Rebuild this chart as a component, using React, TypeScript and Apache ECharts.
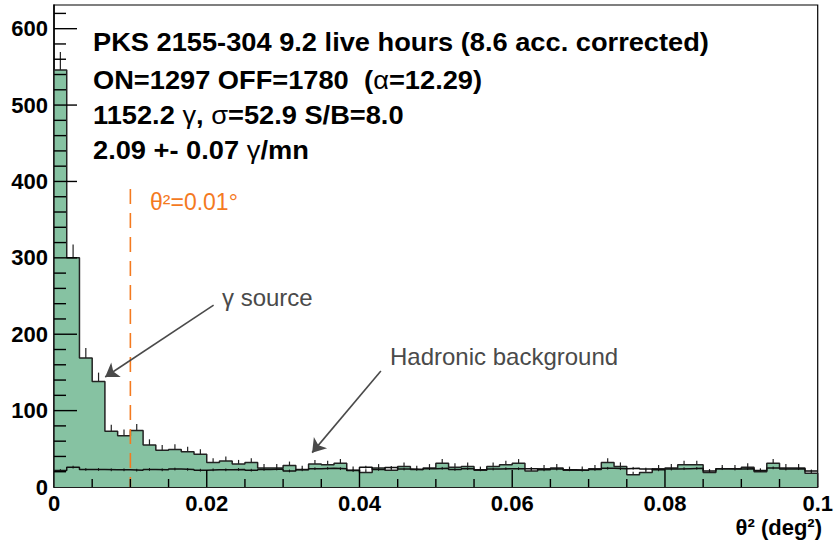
import React, { useEffect, useRef } from "react";
import * as echarts from "echarts";

// theta^2 histogram: 60 bins of width 1/600 deg^2 from 0 to 0.1
const binCount = 60;
const binWidth = 0.1 / 60;

// ON counts (green filled histogram)
const onCounts = [
  546, 300, 169, 138, 73, 67, 74, 55, 48, 49,
  46, 43, 32, 34, 30, 32, 25, 25, 28, 23,
  30, 29, 31, 22, 19, 25, 22, 27, 23, 25,
  31, 26, 27, 22, 27, 29, 31, 21, 24, 25,
  22, 22, 24, 32, 27, 16, 19, 24, 25, 29,
  29, 19, 24, 24, 26, 20, 31, 25, 25, 18,
];

// normalised OFF counts (black line histogram)
const offCounts = [
  21.5, 26, 23, 23, 22.5, 22.5, 22, 23, 22.5, 23.5,
  23, 22, 22.5, 22.5, 23, 22, 23, 23.5, 21, 22.5,
  24, 24.5, 24, 21.5, 26, 23, 25.5, 23.5, 23, 24,
  24.5, 23, 24, 22.5, 23.5, 24, 24, 24, 22.5, 23.5,
  22.5, 22, 23, 24.5, 24, 24.5, 23.5, 22.5, 23.5, 24,
  24.5, 21, 24, 23.5, 24, 21.5, 25, 23.5, 24, 21,
];

const offError = 1.8;
const cutValue = 0.01;
const cutTop = 390;

const yMajorTicks = [100, 200, 300, 400, 500, 600];
const yMinorTicks = [
  20, 40, 60, 80, 120, 140, 160, 180, 220, 240, 260, 280, 320, 340, 360, 380,
  420, 440, 460, 480, 520, 540, 560, 580, 620,
];
const xMajorTicks = [0.02, 0.04, 0.06, 0.08];
const xMinorTicks = [0.005, 0.01, 0.015, 0.025, 0.03, 0.035, 0.045, 0.05, 0.055, 0.065, 0.07, 0.075, 0.085, 0.09, 0.095];

const FONT = "'Liberation Sans', Arial, Helvetica, sans-serif";

function stepOutline(vals: number[], closeToZero: boolean): number[][] {
  const pts: number[][] = [];
  if (closeToZero) pts.push([0, 0]);
  vals.forEach((v, i) => {
    pts.push([i * binWidth, v]);
    pts.push([(i + 1) * binWidth, v]);
  });
  if (closeToZero) pts.push([binCount * binWidth, 0]);
  return pts;
}

export default function App() {
  const ref = useRef<HTMLDivElement>(null);

  useEffect(() => {
    if (!ref.current) return;
    const chart = echarts.init(ref.current, undefined, { renderer: "svg" });

    const onErr = onCounts.map((v, i) => [(i + 0.5) * binWidth, v, v + Math.sqrt(v)]);
    const offErr = offCounts.map((v, i) => [(i + 0.5) * binWidth, v - offError, v + offError]);
    const yTickData = [
      ...yMajorTicks.map((v) => [0, v, 1]),
      ...yMinorTicks.map((v) => [0, v, 0]),
    ];
    const xTickData = [
      ...xMajorTicks.map((v) => [v, 0, 1]),
      ...xMinorTicks.map((v) => [v, 0, 0]),
    ];

    const errRender = (color: string, w: number) => (params: any, api: any) => {
      const x = api.value(0);
      const p1 = api.coord([x, api.value(1)]);
      const p2 = api.coord([x, api.value(2)]);
      return {
        type: "line",
        shape: { x1: p1[0], y1: p1[1], x2: p2[0], y2: p2[1] },
        style: { stroke: color, lineWidth: w },
      };
    };

    const HS = 25;
    const textStyleBold = { fontFamily: FONT, fontWeight: "bold", fontSize: HS, fill: "#000" };
    const greek = { fontFamily: FONT, fontWeight: "normal", fontSize: HS, fill: "#000" };

    const headerText = (y: number, text: string) => ({
      type: "text",
      x: 93,
      y,
      scaleX: 1.09,
      z: 100,
      style: {
        x: 0,
        y: 0,
        verticalAlign: "middle",
        text,
        rich: { b: textStyleBold, g: greek },
        ...textStyleBold,
      },
    });

    chart.setOption({
      animation: false,
      backgroundColor: "#fff",
      grid: {
        left: 54,
        right: 13,
        top: 5,
        bottom: 54,
        show: true,
        borderColor: "#000",
        borderWidth: 1.2,
        backgroundColor: "transparent",
      },
      xAxis: {
        type: "value",
        min: 0,
        max: 0.1,
        interval: 0.02,
        axisLine: { show: true, lineStyle: { color: "#000", width: 1.5 } },
        axisTick: { show: false },
        splitLine: { show: false },
        axisLabel: {
          color: "#000",
          fontFamily: FONT,
          fontWeight: "bold",
          fontSize: 22,
          margin: 5,
          formatter: (v: number) => String(Math.round(v * 1000) / 1000),
        },
      },
      yAxis: {
        type: "value",
        min: 0,
        max: 631,
        interval: 100,
        axisLine: { show: true, lineStyle: { color: "#000", width: 1.5 } },
        axisTick: { show: false },
        splitLine: { show: false },
        axisLabel: {
          color: "#000",
          fontFamily: FONT,
          fontWeight: "bold",
          fontSize: 22,
          margin: 6,
          showMaxLabel: false,
          formatter: (v: number) => (v % 100 === 0 ? String(v) : ""),
        },
      },
      series: [
        {
          type: "line",
          name: "ON",
          data: stepOutline(onCounts, true),
          showSymbol: false,
          symbol: "none",
          lineStyle: { color: "#222", width: 1.5 },
          areaStyle: { color: "#86c2a2", opacity: 1 },
          z: 2,
        },
        {
          type: "line",
          name: "OFF",
          data: stepOutline(offCounts, false),
          showSymbol: false,
          symbol: "none",
          lineStyle: { color: "#111", width: 1.5 },
          z: 3,
        },
        {
          type: "custom",
          name: "ON errors",
          data: onErr,
          encode: { x: 0, y: [1, 2] },
          renderItem: errRender("#222", 1.2),
          z: 4,
        },
        {
          type: "custom",
          name: "OFF errors",
          data: offErr,
          encode: { x: 0, y: [1, 2] },
          renderItem: errRender("#111", 1),
          z: 4,
        },
        {
          type: "line",
          name: "cut",
          data: [
            [cutValue, cutTop],
            [cutValue, 0],
          ],
          showSymbol: false,
          symbol: "none",
          lineStyle: { color: "#f47a1f", width: 1.6, type: [15, 9] },
          z: 5,
        },
        {
          type: "custom",
          name: "yticks",
          data: yTickData,
          encode: { x: 0, y: 1 },
          renderItem: (params: any, api: any) => {
            const p = api.coord([0, api.value(1)]);
            const len = api.value(2) ? 23 : 12;
            return {
              type: "line",
              shape: { x1: p[0], y1: p[1], x2: p[0] + len, y2: p[1] },
              style: { stroke: "#000", lineWidth: 1.4 },
            };
          },
          z: 6,
        },
        {
          type: "custom",
          name: "xticks",
          data: xTickData,
          encode: { x: 0, y: 1 },
          renderItem: (params: any, api: any) => {
            const p = api.coord([api.value(0), 0]);
            const len = api.value(2) ? 17 : 8;
            return {
              type: "line",
              shape: { x1: p[0], y1: p[1], x2: p[0], y2: p[1] - len },
              style: { stroke: "#000", lineWidth: 1.4 },
            };
          },
          z: 6,
        },
        {
          type: "lines",
          coordinateSystem: "cartesian2d",
          name: "arrows",
          symbol: ["none", "arrow"],
          symbolSize: [9, 13],
          lineStyle: { color: "#4a4a4a", width: 1.6, opacity: 1, curveness: 0 },
          data: [
            { coords: [[0.0209, 238], [0.0067, 144]] },
            { coords: [[0.0428, 152], [0.0338, 45]] },
          ],
          z: 7,
        },
      ],
      graphic: [
        headerText(42, "{b|PKS 2155-304 9.2 live hours (8.6 acc. corrected)}"),
        headerText(80, "{b|ON=1297 OFF=1780  (}{g|α}{b|=12.29)}"),
        headerText(115, "{b|1152.2 }{g|γ}{b|, }{g|σ}{b|=52.9 S/B=8.0}"),
        headerText(150, "{b|2.09 +- 0.07 }{g|γ}{b|/mn}"),
        {
          type: "text",
          z: 100,
          style: {
            x: 150,
            y: 202,
            verticalAlign: "middle",
            text: "θ²=0.01°",
            fontFamily: FONT,
            fontSize: 23,
            fill: "#f47a1f",
          },
        },
        {
          type: "text",
          z: 100,
          style: {
            x: 222,
            y: 297,
            verticalAlign: "middle",
            text: "γ source",
            fontFamily: FONT,
            fontSize: 24,
            fill: "#4a4a4a",
          },
        },
        {
          type: "text",
          z: 100,
          style: {
            x: 390,
            y: 356,
            verticalAlign: "middle",
            text: "Hadronic background",
            fontFamily: FONT,
            fontSize: 24,
            fill: "#4a4a4a",
          },
        },
        {
          type: "text",
          z: 100,
          style: {
            x: 822,
            y: 527,
            align: "right",
            verticalAlign: "middle",
            text: "θ² (deg²)",
            fontFamily: FONT,
            fontWeight: "bold",
            fontSize: 22,
            fill: "#000",
          },
        },
      ],
    });

    return () => chart.dispose();
  }, []);

  return (
    <div
      ref={ref}
      style={{ position: "fixed", left: 0, top: 0, width: 836, height: 541, background: "#fff" }}
    />
  );
}
